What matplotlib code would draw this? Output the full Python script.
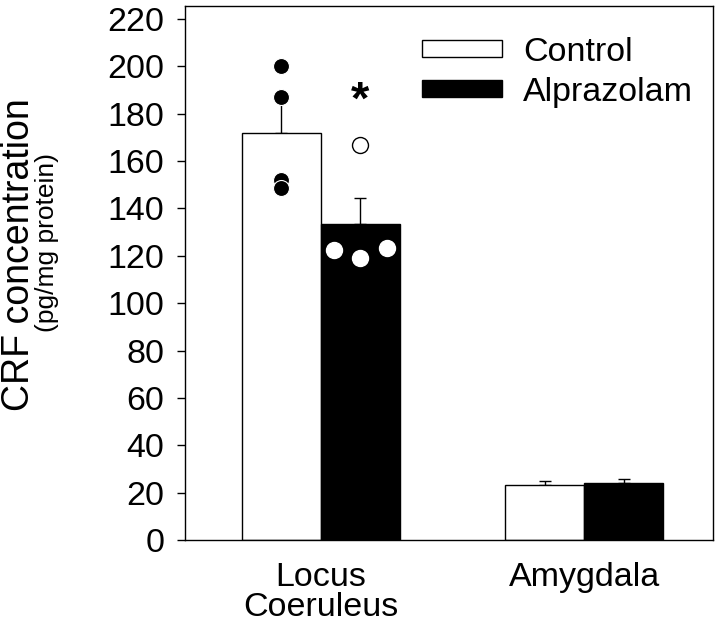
import matplotlib
matplotlib.use("Agg")
import matplotlib.pyplot as plt
import numpy as np

plt.rcParams['font.family'] = ['Liberation Sans', 'DejaVu Sans']

regions = ["Locus\nCoeruleus", "Amygdala"]
groups = ["Control", "Alprazolam"]
control_mean = [172, 23.3]
control_sem = [15, 1.8]
alpraz_mean = [133.4, 24.2]
alpraz_sem = [11, 1.5]
control_points_lc = [200, 187, 152, 148.5]
alpraz_points_lc = [122.5, 119, 123.5]
alpraz_outlier_lc = [167]
asterisk_value = 185

fig = plt.figure(figsize=(7.2, 6.3), dpi=100)
ax = fig.add_axes([185/720, 1 - 540/630, (713-185)/720, (540-6)/630])

centers = np.array([0.0, 3.33])
w = 1.0
xc = centers - w/2
xa = centers + w/2

b1 = ax.bar(xc, control_mean, width=w, color='white', edgecolor='black', linewidth=1.0, zorder=2)
b2 = ax.bar(xa, alpraz_mean, width=w, color='black', edgecolor='black', linewidth=1.0, zorder=2)
ax.errorbar(xc, control_mean, yerr=[np.zeros(2), control_sem], fmt='none', ecolor='black',
            elinewidth=1.0, capsize=4.2, capthick=1.0, zorder=1)
ax.errorbar(xa, alpraz_mean, yerr=[np.zeros(2), alpraz_sem], fmt='none', ecolor='black',
            elinewidth=1.0, capsize=4.2, capthick=1.0, zorder=1)

# individual points
ax.plot([xc[0]] * len(control_points_lc), control_points_lc, 'o', ms=11.5,
        mfc='black', mec='white', mew=0.8, zorder=4)
ax.plot([xa[0] - 0.33, xa[0], xa[0] + 0.33], alpraz_points_lc, 'o', ms=11.5,
        mfc='white', mec='white', zorder=4)
ax.plot([xa[0]] * len(alpraz_outlier_lc), alpraz_outlier_lc, 'o', ms=11.5,
        mfc='white', mec='black', mew=1.0, zorder=4)
ax.text(xa[0], asterisk_value, '*', ha='center', va='center', fontsize=34,
        fontweight='bold', zorder=4)

ax.set_xlim(-1.72, 4.96)
ax.set_ylim(0, 225.5)
ax.set_yticks(np.arange(0, 221, 20))
ax.tick_params(axis='y', direction='out', length=6, width=1.0, labelsize=24.5, pad=9)
ax.set_xticks(centers)
ax.set_xticklabels(regions, fontsize=24.5, linespacing=0.95)
ax.tick_params(axis='x', length=0, pad=16)
for s in ax.spines.values():
    s.set_linewidth(1.0)

fig.text(19/720, 1 - 255/630, "CRF concentration", rotation=90, ha='center', va='center', fontsize=27)
fig.text(47/720, 1 - 243/630, "(pg/mg protein)", rotation=90, ha='center', va='center', fontsize=19)

leg = ax.legend([b1, b2], groups, loc='upper left', bbox_to_anchor=((422-185)/528, 1 - 31/534),
                frameon=False, fontsize=24.5, handlelength=2.35, handleheight=0.38,
                handletextpad=0.62, labelspacing=0.25, borderaxespad=0, borderpad=0)

fig.savefig("out.png", dpi=100)
